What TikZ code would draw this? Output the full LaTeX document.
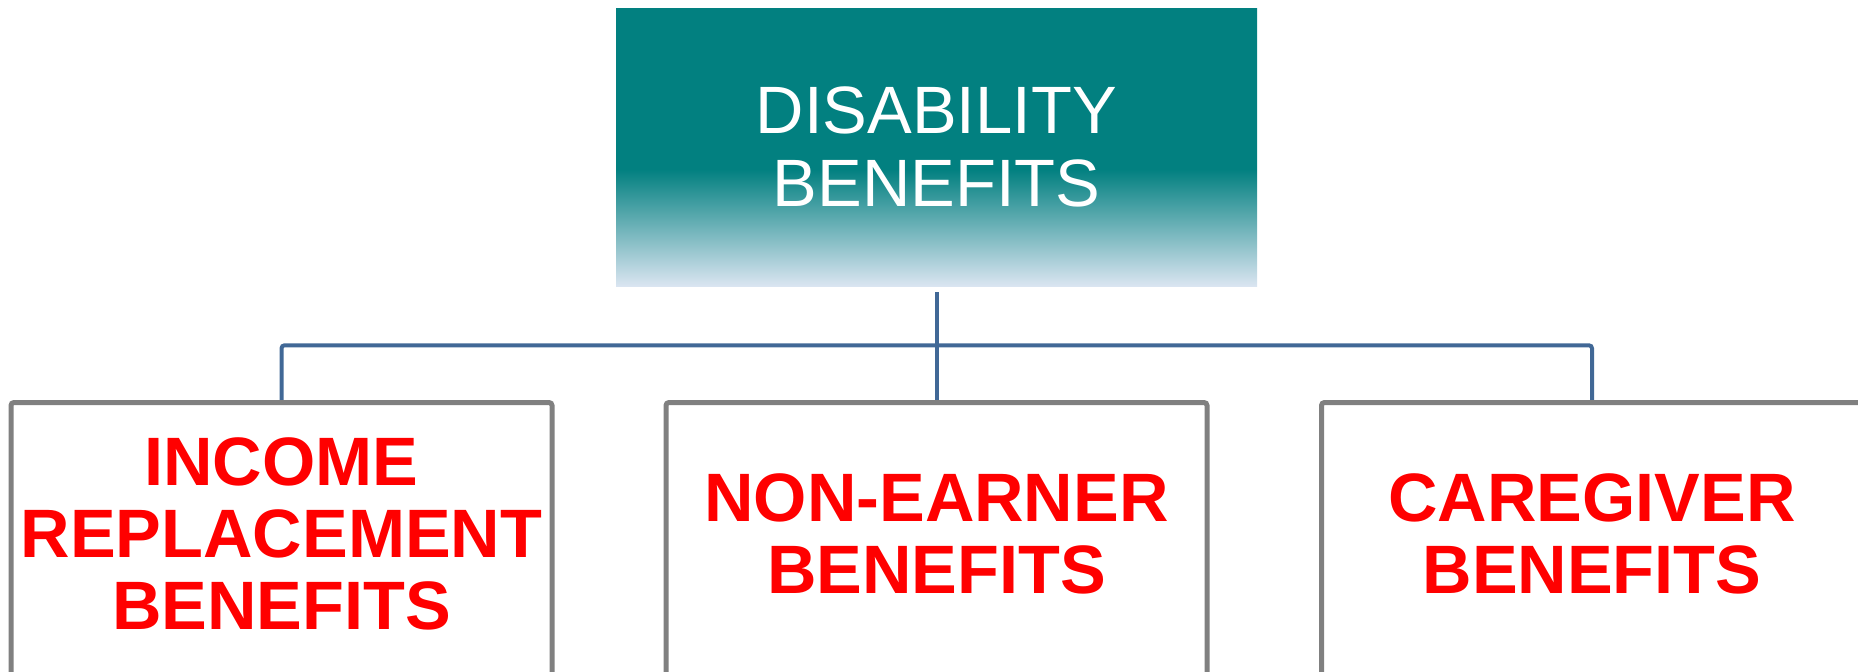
\documentclass[tikz,border=0pt]{standalone}
\usepackage{fontspec}
\setmainfont{Liberation Sans}
\usetikzlibrary{positioning}

\definecolor{tealbox}{RGB}{2,128,128}
\definecolor{fadeblue}{RGB}{218,229,241}
\definecolor{linkblue}{RGB}{65,104,150}
\definecolor{framegray}{RGB}{128,128,128}
\pgfdeclareverticalshading{tealfade}{100bp}{color(0bp)=(fadeblue); color(25bp)=(fadeblue); color(46bp)=(tealbox); color(100bp)=(tealbox)}

\begin{document}
\begin{tikzpicture}[x=0.5pt, y=-0.5pt,
        head/.style={shade, shading=tealfade, minimum width=320.5pt,
                minimum height=139pt, inner sep=0pt, outer sep=0pt,
                align=center, text=white,
                font=\fontsize{33.5}{36.75}\selectfont},
        benefit/.style={minimum width=270.5pt, minimum height=131.5pt,
                inner sep=0pt, outer sep=0pt, align=center, text=red,
                font=\fontsize{34.25}{36}\selectfont\bfseries},
        boxframe/.style={draw=framegray, line width=2.5pt, rounded corners=1.5pt},
        link/.style={draw=linkblue, line width=2pt, rounded corners=1.5pt},
    ]
    \useasboundingbox (0,0) rectangle (1858,671);

    \node[head] (disability) at (936.5,147) {DISABILITY\\BENEFITS};
    \node[benefit, below=58.25pt of disability] (nonearner) {NON-EARNER\\BENEFITS};
    \node[benefit, left=57pt of nonearner] (income) {INCOME\\REPLACEMENT\\BENEFITS};
    \node[benefit, right=57.25pt of nonearner] (caregiver) {CAREGIVER\\BENEFITS};

    \coordinate (bus) at (936.5,345.3);

    \draw[link] ([yshift=-3pt]disability.south) -- (nonearner.north);
    \draw[link] (income.north) |- (bus) -| (caregiver.north);

    % boxes run off the bottom of the page
    \foreach \n in {income,nonearner,caregiver}
        \draw[boxframe] ([yshift=-20pt]\n.south west) -- (\n.north west)
            -- (\n.north east) -- ([yshift=-20pt]\n.south east);
\end{tikzpicture}
\end{document}
